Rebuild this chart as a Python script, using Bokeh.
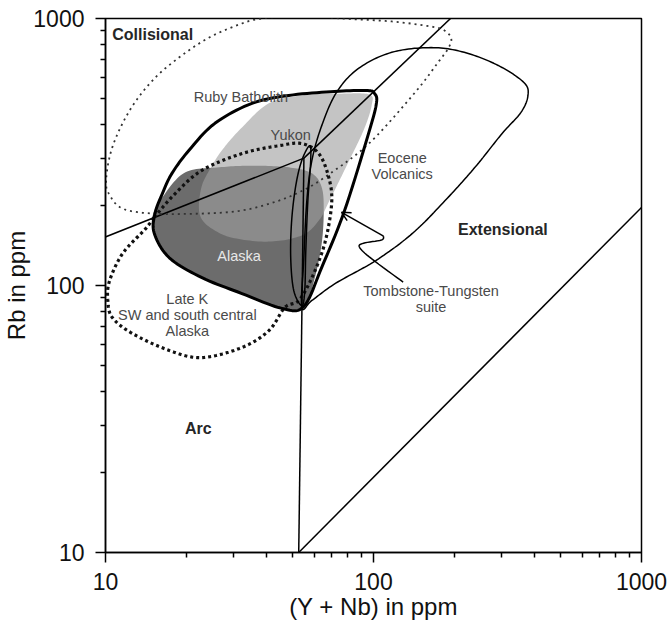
import numpy as np
from bokeh.plotting import figure
from bokeh.models import FixedTicker, Arrow, OpenHead, Range1d
from bokeh.core.properties import value
from bokeh.embed import file_html
from bokeh.resources import INLINE

# ---------------- axis ticks ----------------
major_ticks = [10, 100, 1000]
tick_labels = ["10", "100", "1000"]
minor_ticks = [20, 30, 40, 50, 60, 70, 80, 90, 200, 300, 400, 500, 600, 700, 800, 900]

# ---------------- discrimination boundaries (Y+Nb, Rb) ----------------
colg_vag_x = [2, 55]
colg_vag_y = [80, 300]
colg_wpg_x = [55, 400]
colg_wpg_y = [300, 2000]
vag_wpg_x = [55, 52.6]
vag_wpg_y = [300, 10]
wpg_org_x = [52.6, 1000]
wpg_org_y = [10, 196]

# ---------------- fields (Y+Nb, Rb) ----------------
thin_dot_x = [10.05, 10.4, 11.6, 15.0, 22.9, 32.3, 44.4, 57.3, 71.6, 90.2, 110, 147, 174, 190, 195, 184, 164, 117, 76, 54, 38.4, 32.3, 24.4, 18.8, 15.0, 12.3, 10.6]
thin_dot_y = [247, 217, 194, 186, 186, 191, 208, 233, 270, 321, 391, 547, 684, 773, 841, 902, 933, 975, 1000, 1026, 1000, 958, 849, 714, 587, 452, 329]

eocene_x = [54.0, 54.9, 56.4, 58.9, 64.1, 72.8, 87.9, 117, 164, 218, 292, 364, 377, 355, 302, 239, 185, 140, 102, 72.3, 58.9]
eocene_y = [82.8, 124, 208, 294, 397, 529, 650, 747, 778, 747, 667, 576, 515, 445, 371, 277, 208, 157, 124, 102, 87.9]

tomb_x = [54.0, 50.4, 49.1, 49.5, 51.3, 54.0, 57.8, 58.3, 56.9, 55.9, 55.4]
tomb_y = [84.1, 95.8, 127, 175, 237, 294, 334, 294, 208, 135, 95.8]

ruby_x = [15.3, 16.3, 17.7, 20.5, 25.6, 35.2, 48.3, 71.6, 95.1, 101, 102.6, 96.6, 78.0, 64.1, 54.9, 45.5, 32.3, 22.9, 17.3, 15.2]
ruby_y = [186, 221, 263, 321, 405, 481, 515, 533, 537, 523, 484, 381, 191, 117, 83.4, 82.1, 93.3, 107, 127, 157]

latek_x = [15.2, 18.2, 22.9, 32.3, 44.4, 54.0, 62.5, 68.1, 69.8, 65.8, 58.9, 52.6, 46.7, 40.7, 32.3, 22.9, 17.3, 12.6, 10.6, 10.2, 10.35, 11.6, 14.1]
latek_y = [180, 221, 270, 312, 334, 340, 312, 254, 203, 144, 107, 87.9, 82.8, 67.8, 58.6, 53.7, 57.1, 66.1, 75.9, 87.9, 104, 132, 163]

alaska_x = [15.0, 16.3, 19.8, 26.6, 35.2, 48.3, 58.9, 64.1, 65.2, 64.1, 60.4, 55.4, 45.5, 32.3, 22.9, 17.3, 15.2]
alaska_y = [183, 214, 265, 277, 281, 277, 263, 233, 191, 144, 107, 84.1, 82.1, 93.3, 107, 127, 157]

yukon_x = [22.3, 22.9, 24.4, 27.2, 32.3, 40.7, 54.0, 76.0, 96.6, 98.4, 91.8, 79.4, 68.5, 62.5, 54.0, 40.7, 29.7, 25.0, 22.8]
yukon_y = [200, 237, 270, 321, 391, 481, 515, 523, 519, 472, 381, 281, 208, 175, 154, 146, 151, 163, 178]

# arrow path from the Tombstone-Tungsten label to the field edge
arrow_x = [129, 98.3, 88.7, 91.8, 107, 109]
arrow_y = [103, 126, 139, 144, 148, 153]
arrow_tip_x = 76.0
arrow_tip_y = 188

# ---------------- labels ----------------
bold_text = ["Extensional", "Arc"]
bold_x = [304, 22.2]
bold_y = [162, 29.1]
coll_text = ["Collisional"]
coll_x = [10.6]
coll_y = [871]
field_text = ["Ruby Batholith", "Yukon", "Eocene", "Volcanics", "Late K", "SW and south central", "Alaska",
              "Tombstone-Tungsten", "suite"]
field_x = [32.0, 49.1, 128, 128, 20.2, 20.2, 20.2, 164, 164]
field_y = [510, 365, 299, 261, 89.3, 77.8, 67.8, 95.0, 83.4]
alaska_lbl = ["Alaska"]
alaska_lbl_x = [31.5]
alaska_lbl_y = [129]


def smooth(xs, ys, closed=True, n=14):
    P = np.column_stack([np.log10(xs), np.log10(ys)])
    if closed:
        P = np.vstack([P[-1], P, P[0], P[1]])
    else:
        P = np.vstack([P[0], P, P[-1]])
    out = []
    for i in range(1, len(P) - 2):
        p0, p1, p2, p3 = P[i - 1], P[i], P[i + 1], P[i + 2]
        for t in np.linspace(0, 1, n, endpoint=False):
            t2 = t * t
            t3 = t2 * t
            out.append(0.5 * ((2 * p1) + (-p0 + p2) * t + (2 * p0 - 5 * p1 + 4 * p2 - p3) * t2
                              + (-p0 + 3 * p1 - 3 * p2 + p3) * t3))
    out.append(out[0] if closed else P[-2])
    out = np.array(out)
    return list(10 ** out[:, 0]), list(10 ** out[:, 1])


FONT = "Liberation Sans"

p = figure(width=668, height=625, x_axis_type="log", y_axis_type="log",
           x_range=Range1d(10, 1000), y_range=Range1d(10, 1000),
           output_backend="svg", toolbar_location=None,
           min_border_left=103, min_border_right=27, min_border_top=18, min_border_bottom=73)
p.grid.visible = False
p.outline_line_color = "black"
p.outline_line_width = 1.5
p.background_fill_color = "white"
p.border_fill_color = "white"

for ax in (p.xaxis[0], p.yaxis[0]):
    ax.ticker = FixedTicker(ticks=major_ticks, minor_ticks=minor_ticks)
    ax.major_label_overrides = {t: s for t, s in zip(major_ticks, tick_labels)}
    ax.axis_line_width = 1.5
    ax.axis_line_color = "black"
    ax.major_tick_in = 0
    ax.major_tick_out = 10
    ax.minor_tick_in = 0
    ax.minor_tick_out = 5
    ax.major_tick_line_width = 1.5
    ax.minor_tick_line_width = 1.5
    ax.major_label_text_font = FONT
    ax.major_label_text_font_size = "23px"
    ax.major_label_text_color = "#111111"
    ax.axis_label_text_font = FONT
    ax.axis_label_text_font_size = "24px"
    ax.axis_label_text_font_style = "normal"
    ax.axis_label_text_color = "#111111"

p.xaxis.axis_label = "(Y + Nb) in ppm"
p.yaxis.axis_label = "Rb in ppm"
p.xaxis.major_label_standoff = 10
p.xaxis.axis_label_standoff = 0
p.yaxis.major_label_standoff = 11
p.yaxis.axis_label_standoff = 0

# fills
ax_, ay_ = smooth(alaska_x, alaska_y)
p.patch(ax_, ay_, fill_color="#6c6c6c", line_color=None)
yx_, yy_ = smooth(yukon_x, yukon_y)
p.patch(yx_, yy_, fill_color="#9e9e9e", fill_alpha=0.61, line_color=None)

# boundaries
for bx, by in ((colg_vag_x, colg_vag_y), (colg_wpg_x, colg_wpg_y), (vag_wpg_x, vag_wpg_y), (wpg_org_x, wpg_org_y)):
    p.line(bx, by, line_color="black", line_width=1.5)

# field outlines
tx, ty = smooth(thin_dot_x, thin_dot_y)
p.line(tx, ty, line_color="#333333", line_width=1.8, line_dash="2 4")
lx, ly = smooth(latek_x, latek_y)
p.line(lx, ly, line_color="#111111", line_width=3.2, line_dash="3 3")
ex, ey = smooth(eocene_x, eocene_y)
p.line(ex, ey, line_color="black", line_width=1.5)
ox, oy = smooth(tomb_x, tomb_y)
p.line(ox, oy, line_color="black", line_width=1.5)
rx, ry = smooth(ruby_x, ruby_y, n=10)
p.line(rx, ry, line_color="black", line_width=3, line_join="round")

# arrow
sx, sy = smooth(arrow_x, arrow_y, closed=False, n=8)
p.line(sx, sy, line_color="black", line_width=1.5)
p.add_layout(Arrow(end=OpenHead(size=9, line_width=1.5, line_color="black"),
                   x_start=arrow_x[-1], y_start=arrow_y[-1], x_end=arrow_tip_x, y_end=arrow_tip_y,
                   line_color="black", line_width=1.5))

# labels
p.text(field_x, field_y, text=field_text, text_font=value(FONT), text_font_size="14.5px",
       text_color="#4a4a4a", text_align="center", text_baseline="middle")
p.text(alaska_lbl_x, alaska_lbl_y, text=alaska_lbl, text_font=value(FONT), text_font_size="14.5px",
       text_color="#e8e8e8", text_align="center", text_baseline="middle")
p.text(bold_x, bold_y, text=bold_text, text_font=value(FONT), text_font_size="16px", text_font_style="bold",
       text_color="#262626", text_align="center", text_baseline="middle")
p.text(coll_x, coll_y, text=coll_text, text_font=value(FONT), text_font_size="16px", text_font_style="bold",
       text_color="#262626", text_align="left", text_baseline="middle")

open("out.html", "w").write(file_html(p, INLINE))
